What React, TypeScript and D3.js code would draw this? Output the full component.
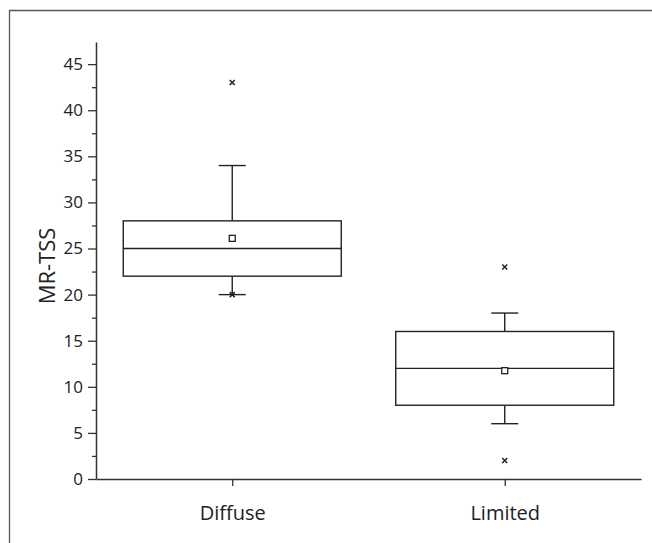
import React, { useRef, useEffect } from "react";
import * as d3 from "d3";

// box plot summary
const groups = ["Diffuse", "Limited"];
const q1 = [22, 8];
const medians = [25, 12];
const q3 = [28, 16];
const whiskerLow = [20, 6];
const whiskerHigh = [34, 18];
const means = [26.1, 11.75];
const outliers = [[43, 20], [23, 2]];
const majorTicks = [0, 5, 10, 15, 20, 25, 30, 35, 40, 45];
const minorTicks = [2.5, 7.5, 12.5, 17.5, 22.5, 27.5, 32.5, 37.5, 42.5];

const FONT = "'Open Sans', sans-serif";

const App = () => {
  const svgRef = useRef<SVGSVGElement>(null);

  useEffect(() => {
    const svg = d3.select(svgRef.current);
    svg.selectAll("*").remove();

    const width = 652;
    const height = 543;
    const x = d3.scalePoint().domain(groups).range([96, 641]).padding(0.5);
    const y = d3.scaleLinear().domain([0, 47.4]).range([479, 42]);
    const boxW = x.step() * 0.8;
    const capW = 27;

    svg.attr("width", width).attr("height", height);

    // outer frame (cropped at right and bottom)
    svg.append("path")
      .attr("d", `M9.5,${height + 2}V10.5H${width + 2}`)
      .attr("fill", "none")
      .attr("stroke", "#555")
      .attr("stroke-width", 1.3);

    // y axis
    const yMajor = svg.append("g")
      .attr("transform", "translate(96,0)")
      .call(d3.axisLeft(y).tickValues(majorTicks).tickSize(8).tickSizeOuter(0).tickPadding(5));
    yMajor.select(".domain").attr("stroke", "#333").attr("stroke-width", 1.5);
    yMajor.selectAll(".tick line").attr("stroke", "#333").attr("stroke-width", 1.3);
    yMajor.selectAll(".tick text")
      .attr("font-family", FONT)
      .attr("font-size", 17)
      .attr("fill", "#222");

    const yMinor = svg.append("g")
      .attr("transform", "translate(96,0)")
      .call(d3.axisLeft(y).tickValues(minorTicks).tickSize(4).tickSizeOuter(0).tickFormat(() => ""));
    yMinor.select(".domain").remove();
    yMinor.selectAll(".tick line").attr("stroke", "#333").attr("stroke-width", 1.3);

    // x axis
    const xAxis = svg.append("g")
      .attr("transform", `translate(0,${y(0)})`)
      .call(d3.axisBottom(x).tickSize(7).tickSizeOuter(0).tickPadding(20));
    xAxis.select(".domain").attr("stroke", "#333").attr("stroke-width", 1.5);
    xAxis.selectAll(".tick line").attr("stroke", "#333").attr("stroke-width", 1.3);
    xAxis.selectAll(".tick text")
      .attr("font-family", FONT)
      .attr("font-size", 20)
      .attr("fill", "#222");

    // y label
    svg.append("text")
      .attr("transform", `translate(55,266) rotate(-90)`)
      .attr("text-anchor", "middle")
      .attr("font-family", FONT)
      .attr("font-size", 22)
      .attr("fill", "#222")
      .text("MR-TSS");

    const body = svg.append("g")
      .attr("fill", "none")
      .attr("stroke", "#222")
      .attr("stroke-width", 1.4);

    groups.forEach((g, i) => {
      const cx = x(g) as number;

      // whiskers
      body.append("line")
        .attr("x1", cx).attr("x2", cx)
        .attr("y1", y(q3[i])).attr("y2", y(whiskerHigh[i]));
      body.append("line")
        .attr("x1", cx).attr("x2", cx)
        .attr("y1", y(q1[i])).attr("y2", y(whiskerLow[i]));
      body.append("line")
        .attr("x1", cx - capW / 2).attr("x2", cx + capW / 2)
        .attr("y1", y(whiskerHigh[i])).attr("y2", y(whiskerHigh[i]));
      body.append("line")
        .attr("x1", cx - capW / 2).attr("x2", cx + capW / 2)
        .attr("y1", y(whiskerLow[i])).attr("y2", y(whiskerLow[i]));

      // box
      body.append("rect")
        .attr("x", cx - boxW / 2)
        .attr("y", y(q3[i]))
        .attr("width", boxW)
        .attr("height", y(q1[i]) - y(q3[i]))
        .attr("fill", "white");
      body.append("line")
        .attr("x1", cx - boxW / 2).attr("x2", cx + boxW / 2)
        .attr("y1", y(medians[i])).attr("y2", y(medians[i]));

      // mean
      body.append("rect")
        .attr("x", cx - 3).attr("y", y(means[i]) - 3)
        .attr("width", 6).attr("height", 6)
        .attr("fill", "white")
        .attr("stroke-width", 1.3);

      // outliers
      outliers[i].forEach((v) => {
        const oy = y(v);
        body.append("path")
          .attr("d", `M${cx - 2.5},${oy - 2.5}L${cx + 2.5},${oy + 2.5}M${cx + 2.5},${oy - 2.5}L${cx - 2.5},${oy + 2.5}`)
          .attr("stroke-width", 1.5);
      });
    });
  }, []);

  return (
    <svg ref={svgRef} style={{ position: "absolute", left: 0, top: 0, background: "white" }}></svg>
  );
};

export default App;
